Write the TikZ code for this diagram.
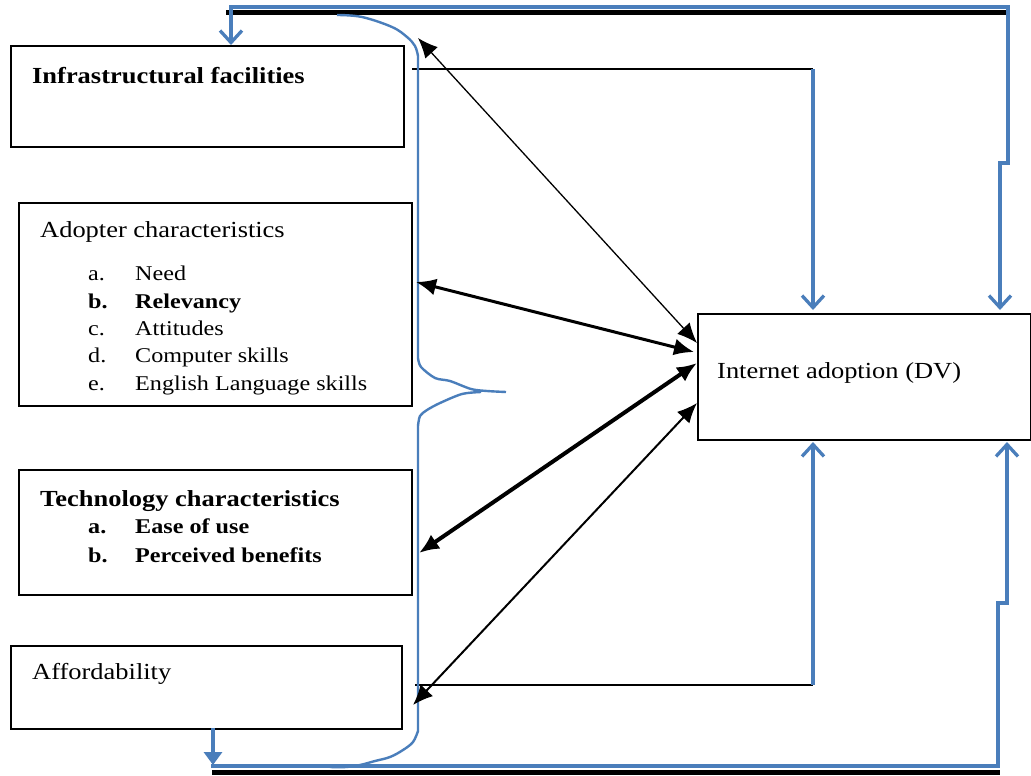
\documentclass[tikz,border=0pt]{standalone}
\usepackage{fontspec}
\setmainfont{Liberation Serif}[FakeStretch=1.15]
\usetikzlibrary{arrows.meta}
\definecolor{bl}{RGB}{74,126,187}
\begin{document}
\begin{tikzpicture}[x=1pt,y=-1pt,
  box/.style={draw=black, line width=2pt, anchor=north west, inner sep=0pt},
  txt/.style={anchor=base west, inner sep=0pt, font=\fontsize{23}{27}\selectfont},
  btxt/.style={txt, font=\fontsize{23}{27}\selectfont\bfseries},
  stxt/.style={anchor=base west, inner sep=0pt, font=\fontsize{21}{25}\selectfont},
  sbtxt/.style={stxt, font=\fontsize{21}{25}\selectfont\bfseries},
  bluel/.style={draw=bl, line width=3.3pt},
  bluea/.style={bluel, -{Straight Barb[length=12pt,width=22pt]}},
  blka/.style={draw=black, {Latex[length=20pt,width=17pt]}-{Latex[length=20pt,width=17pt]}},
  thickbar/.style={draw=black, line width=5pt}
]
\useasboundingbox (0,0) rectangle (1031,776);
\fill[white] (0,0) rectangle (1031,776);

% boxes
\node[box, minimum width=393pt, minimum height=101pt] (infra) at (10,45) {};
\node[box, minimum width=393pt, minimum height=203pt] (adopt) at (18,202) {};
\node[box, minimum width=393pt, minimum height=125pt] (tech) at (18,469) {};
\node[box, minimum width=391pt, minimum height=83pt] (afford) at (10,645) {};
\node[box, minimum width=333pt, minimum height=126pt] (inet) at (697,313) {};

% texts
\node[btxt] (tinfra) at (32,84) {Infrastructural facilities};
\node[txt] (tadopt) at (40,237) {Adopter characteristics};
\node[stxt] (la) at (88,280) {a.};   \node[stxt] (ia) at (135,280) {Need};
\node[sbtxt] (lb) at (88,308) {b.};  \node[sbtxt] (ib) at (135,308) {Relevancy};
\node[stxt] (lc) at (88,335) {c.};   \node[stxt] (ic) at (135,335) {Attitudes};
\node[stxt] (ld) at (88,362) {d.};   \node[stxt] (id) at (135,362) {Computer skills};
\node[stxt] (le) at (88,390) {e.};   \node[stxt] (ie) at (135,390) {English Language skills};
\node[btxt] (ttech) at (40,506) {Technology characteristics};
\node[sbtxt] (ta) at (88,533) {a.};  \node[sbtxt] (tia) at (135,533) {Ease of use};
\node[sbtxt] (tb) at (88,562) {b.};  \node[sbtxt] (tib) at (135,562) {Perceived benefits};
\node[txt] (tafford) at (32,679) {Affordability};
\node[txt] (tinet) at (717,378) {Internet adoption (DV)};

% coordinates
\coordinate (tl) at (226,13);
\coordinate (tr) at (1010,13);
\coordinate (bll) at (212,772);
\coordinate (brr) at (1000,772);
\coordinate (m1) at (412,69);
\coordinate (m1c) at (813,69);
\coordinate (m1e) at (813,310);
\coordinate (m2) at (415,685);
\coordinate (m2c) at (813,685);
\coordinate (m2e) at (813,442);
\coordinate (a1s) at (418,38);   \coordinate (a1e) at (697,343);
\coordinate (a2s) at (416,282);  \coordinate (a2e) at (694,352);
\coordinate (a3s) at (419,553);  \coordinate (a3e) at (697,363);
\coordinate (a4s) at (413,705);  \coordinate (a4e) at (697,403);
\coordinate (ttop) at (231,45);
\coordinate (tbot) at (213,728);

% thick black bars
\draw[thickbar] (tl) -- (tr);
\draw[thickbar] (bll) -- (brr);

% top blue frame
\draw[bluel, {Straight Barb[length=12pt,width=22pt]}-{Straight Barb[length=12pt,width=22pt]}]
  (ttop) -- (231,7) -- (1008,7) -- (1008,163) -- (1000,163) -- (1000,310);
% bottom blue frame
\draw[bluea] (211,766) -- (998,766) -- (998,603) -- (1007,603) -- (1007,442);
\draw[bluel, -{Triangle[length=13pt,width=18pt]}] (tbot) -- (213,765);

% middle connectors
\draw[line width=2pt] (m1) -- (m1c);
\draw[bluea] (m1c) -- (m1e);
\draw[line width=2pt] (m2) -- (m2c);
\draw[bluea] (m2c) -- (m2e);

% brace
\draw[draw=bl, line width=2.4pt, line join=round]
  plot[smooth, tension=0.6] coordinates {(337,15) (362,17) (392,27) (407,37) (415,46) (418,56)}
  -- (418,358)
  plot[smooth, tension=0.5] coordinates {(418,358) (421,367) (435,378) (450,381) (471,389) (487,391) (506,392)};
\draw[draw=bl, line width=2.4pt, line join=round]
  plot[smooth, tension=0.5] coordinates {(481,392) (462,394) (440,403) (427,410) (420,416) (418,426)}
  -- (418,731)
  plot[smooth, tension=0.6] coordinates {(418,731) (413,742) (403,750) (390,757) (375,761) (360,765) (346,767) (330,767)};

% black double arrows
\draw[blka, line width=1.3pt] (a1s) -- (a1e);
\draw[blka, line width=3pt] (a2s) -- (a2e);
\draw[blka, line width=4pt] (a3s) -- (a3e);
\draw[blka, line width=2pt] (a4s) -- (a4e);
\end{tikzpicture}
\end{document}
